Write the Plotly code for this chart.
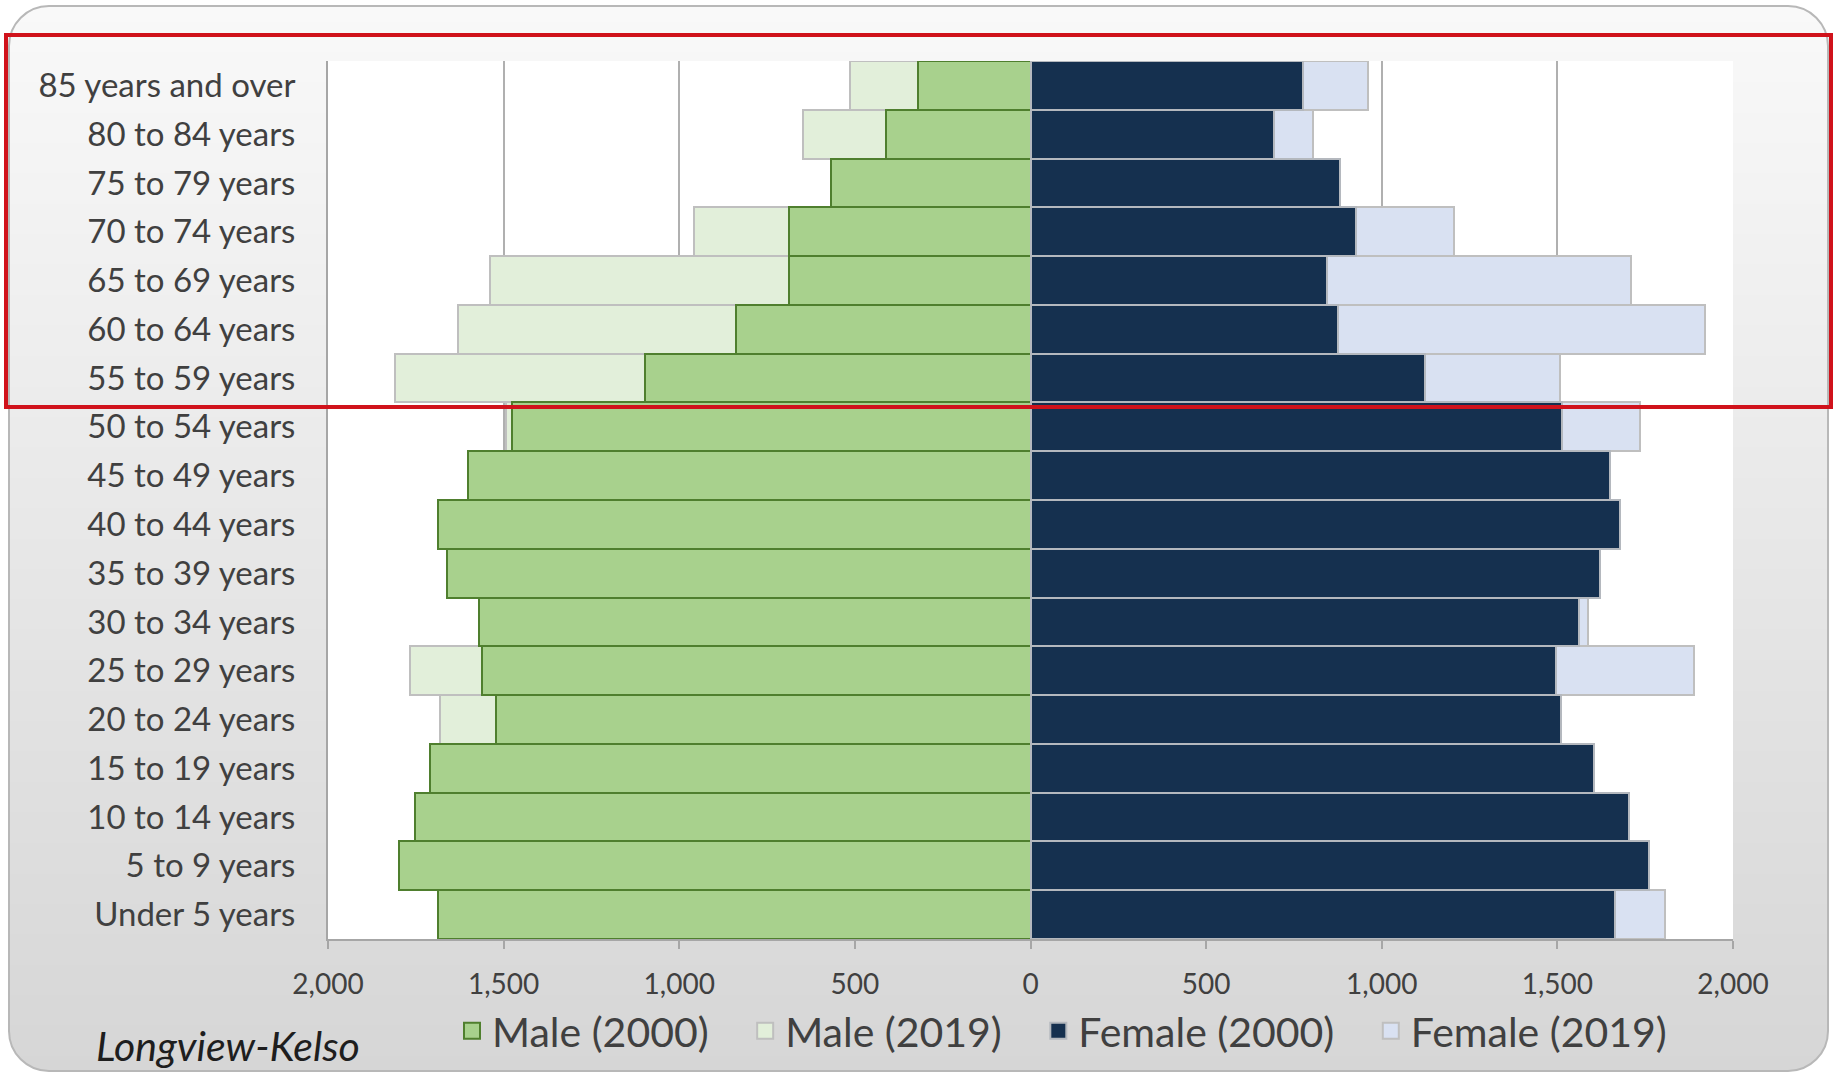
import plotly.graph_objects as go

# Age groups, bottom to top
categories = [
    "Under 5 years", "5 to 9 years", "10 to 14 years", "15 to 19 years",
    "20 to 24 years", "25 to 29 years", "30 to 34 years", "35 to 39 years",
    "40 to 44 years", "45 to 49 years", "50 to 54 years", "55 to 59 years",
    "60 to 64 years", "65 to 69 years", "70 to 74 years", "75 to 79 years",
    "80 to 84 years", "85 years and over",
]

male_2000 = [1687, 1797, 1753, 1711, 1523, 1563, 1571, 1662, 1688, 1601,
             1475, 1098, 839, 687, 687, 567, 410, 320]
male_2019 = [1560, 1650, 1640, 1600, 1682, 1767, 1480, 1520, 1540, 1500,
             1494, 1810, 1630, 1540, 957, 540, 649, 514]
female_2000 = [1663, 1760, 1703, 1604, 1510, 1495, 1561, 1622, 1679, 1650,
               1514, 1122, 875, 844, 927, 881, 694, 776]
female_2019 = [1807, 1690, 1600, 1540, 1450, 1888, 1587, 1560, 1600, 1580,
               1735, 1507, 1919, 1711, 1205, 850, 803, 962]

tick_values = [-2000, -1500, -1000, -500, 0, 500, 1000, 1500, 2000]
tick_text = ["2,000", "1,500", "1,000", "500", "0", "500", "1,000", "1,500", "2,000"]

FONT = "Lato"
TEXT = "#404040"

# Series styles: (name, fill, outline, legend order)
STYLE = {
    "m2000": ("Male (2000)", "#A8D18D", "#4F7F2E", 1),
    "m2019": ("Male (2019)", "#E2EFDA", "#BFBFBF", 2),
    "f2000": ("Female (2000)", "#15304F", "#B4B8BE", 3),
    "f2019": ("Female (2019)", "#D9E1F2", "#BFBFBF", 4),
}
LEGEND_PAD = "\u00a0\u00a0\u00a0"  # extra room between legend entries

# Figure / plot-area geometry in pixels
W, H = 1835, 1073
L, R, T, B = 328, 102, 61, 134
PW, PH = W - L - R, H - T - B


def px(x):
    return (x - L) / PW


def py(y):
    return (H - B - y) / PH


fig = go.Figure()


def add_bars(key, values, sign):
    name, fill, outline, _ = STYLE[key]
    fig.add_trace(go.Bar(
        y=categories, x=[sign * v for v in values], orientation="h",
        name=name, showlegend=False,
        marker=dict(color=fill, line=dict(color=outline, width=2)),
    ))


# 2019 bars sit behind the 2000 bars
add_bars("m2019", male_2019, -1)
add_bars("f2019", female_2019, 1)
add_bars("m2000", male_2000, -1)
add_bars("f2000", female_2000, 1)

# Legend entries with larger square swatches
legend_keys = ["m2000", "m2019", "f2000", "f2019"]
for i, key in enumerate(legend_keys):
    name, fill, outline, rank = STYLE[key]
    label = name + (LEGEND_PAD if i < len(legend_keys) - 1 else "")
    fig.add_trace(go.Scatter(
        x=[None], y=[None], mode="markers", name=label, legendrank=rank,
        marker=dict(symbol="square", size=18, color=fill,
                    line=dict(color=outline, width=2)),
        hoverinfo="skip",
    ))

shapes = []

# Vertical grey gradient behind the whole chart
x_left, x_right, y_top, y_bot = 9, 1828, 6, 1071
n = 70
for i in range(n):
    y0 = y_top + (y_bot - y_top) * i / n
    y1 = y_top + (y_bot - y_top) * (i + 1) / n + 1
    g = round(249 - (249 - 214) * (i + 0.5) / n)
    shapes.append(dict(
        type="rect", xref="paper", yref="paper", layer="below",
        x0=px(x_left), x1=px(x_right), y0=py(y1), y1=py(y0),
        fillcolor=f"rgb({g},{g},{g})", line=dict(width=0),
    ))

# White corner masks so the gradient panel has rounded corners
r = 40
k = 0.5523
corners = [
    (x_left, y_top, 1, 1),
    (x_right, y_top, -1, 1),
    (x_left, y_bot, 1, -1),
    (x_right, y_bot, -1, -1),
]
for cx, cy, sx, sy in corners:
    p0 = (cx + sx * r, cy)
    c1 = (cx + sx * r * (1 - k), cy)
    c2 = (cx, cy + sy * r * (1 - k))
    p1 = (cx, cy + sy * r)
    path = (f"M{px(cx-sx*2)},{py(cy-sy*2)} L{px(p0[0])},{py(cy-sy*2)} L{px(p0[0])},{py(p0[1])} "
            f"C{px(c1[0])},{py(c1[1])} {px(c2[0])},{py(c2[1])} {px(p1[0])},{py(p1[1])} "
            f"L{px(cx-sx*2)},{py(p1[1])} Z")
    shapes.append(dict(type="path", xref="paper", yref="paper", layer="below",
                       path=path, fillcolor="white", line=dict(width=0)))


# Rounded border of the panel
def rounded_rect(x0, y0, x1, y1, rad):
    c = rad * (1 - k)
    pts = [
        f"M{px(x0+rad)},{py(y0)}",
        f"L{px(x1-rad)},{py(y0)}",
        f"C{px(x1-c)},{py(y0)} {px(x1)},{py(y0+c)} {px(x1)},{py(y0+rad)}",
        f"L{px(x1)},{py(y1-rad)}",
        f"C{px(x1)},{py(y1-c)} {px(x1-c)},{py(y1)} {px(x1-rad)},{py(y1)}",
        f"L{px(x0+rad)},{py(y1)}",
        f"C{px(x0+c)},{py(y1)} {px(x0)},{py(y1-c)} {px(x0)},{py(y1-rad)}",
        f"L{px(x0)},{py(y0+rad)}",
        f"C{px(x0)},{py(y0+c)} {px(x0+c)},{py(y0)} {px(x0+rad)},{py(y0)} Z",
    ]
    return " ".join(pts)


shapes.append(dict(type="path", xref="paper", yref="paper", layer="below",
                   path=rounded_rect(x_left, y_top, x_right, y_bot, r),
                   line=dict(color="#B8B8B8", width=2)))

# White plot area
shapes.append(dict(type="rect", xref="paper", yref="paper", layer="below",
                   x0=0, x1=1, y0=0, y1=1, fillcolor="white", line=dict(width=0)))

# Red highlight around the 55+ age groups
shapes.append(dict(type="rect", xref="paper", yref="paper", layer="above",
                   x0=px(6), x1=px(1831), y0=py(407), y1=py(35),
                   line=dict(color="#D0121B", width=4)))

fig.update_layout(
    width=W, height=H,
    margin=dict(l=L, r=R, t=T, b=B, autoexpand=False),
    paper_bgcolor="white",
    plot_bgcolor="rgba(0,0,0,0)",
    barmode="overlay",
    bargap=0,
    font=dict(family=FONT, color=TEXT),
    shapes=shapes,
    showlegend=True,
    legend=dict(
        orientation="h", x=px(452), xanchor="left", y=py(1031), yanchor="middle",
        font=dict(family=FONT, size=41, color=TEXT),
        bgcolor="rgba(0,0,0,0)", traceorder="normal", itemwidth=30,
    ),
    annotations=[dict(
        text="<i>Longview-Kelso</i>", xref="paper", yref="paper",
        x=px(94), y=py(1045), xanchor="left", yanchor="middle",
        showarrow=False, font=dict(family=FONT, size=41, color="#1E1E1E"),
    )],
)

fig.update_xaxes(
    range=[-2000, 2000], tickvals=tick_values, ticktext=tick_text,
    showgrid=True, gridcolor="#B0B0B0", gridwidth=1.5,
    zeroline=False, showline=True, linecolor="#A6A6A6", linewidth=2,
    ticks="outside", ticklen=8, tickcolor="#A6A6A6", tickwidth=1.5,
    tickfont=dict(family=FONT, size=28, color=TEXT),
    ticklabelstandoff=11, automargin=False, fixedrange=True,
)
fig.update_yaxes(
    categoryorder="array", categoryarray=categories,
    showgrid=False, showline=True, linecolor="#A6A6A6", linewidth=2,
    ticks="", tickfont=dict(family=FONT, size=33, color=TEXT),
    ticklabelstandoff=24, automargin=False, fixedrange=True,
)

fig.write_html("out.html")
